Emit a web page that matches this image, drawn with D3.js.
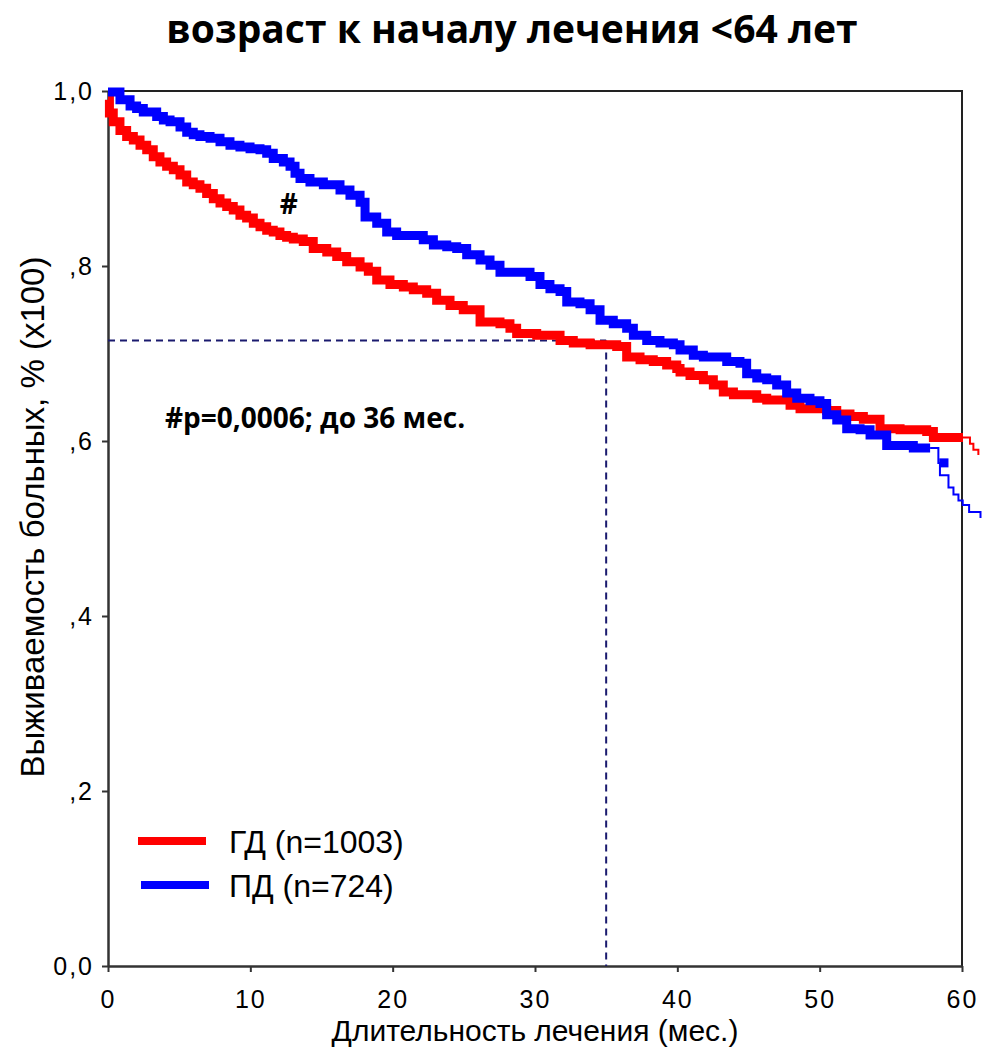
<!DOCTYPE html>
<html>
<head>
<meta charset="utf-8">
<script src="https://cdn.jsdelivr.net/npm/d3@7"></script>
<style>
  body { margin: 0; background: #fff; }
  svg { display: block; }
</style>
</head>
<body>
<svg id="chart" width="982" height="1053"></svg>
<script>
/**
 * Data.
 */
const title = 'возраст к началу лечения <64 лет',
    xLabel = 'Длительность лечения (мес.)',
    yLabel = 'Выживаемость больных, % (x100)',
    note = '#p=0,0006; до 36 мес.';

const xTicks = [0, 10, 20, 30, 40, 50, 60],
    yTicks = [0, 0.2, 0.4, 0.6, 0.8, 1.0],
    yTickLabels = ['0,0', ',2', ',4', ',6', ',8', '1,0'];

// ГД (red): months, survival
const gdTime = [0, 0.1, 0.37, 0.84, 1.31, 1.78, 2.25, 2.72, 3.18, 3.65, 4.12, 4.59, 5.06, 5.53, 5.99, 6.46, 6.93, 7.4, 7.87, 8.34,
        8.8, 9.27, 9.74, 10.21, 10.68, 11.15, 11.61, 12.08, 12.55, 13.02, 13.72, 14.42, 15.37, 16.07, 16.77, 17.71, 18.29, 18.88, 19.81, 20.75,
        21.45, 22.39, 23.09, 24.03, 24.96, 26.14, 27.54, 28.24, 28.71, 30.12, 31.76, 32.69, 33.87, 35.74, 36.44, 37.38, 38.31, 39.25, 39.96, 40.19,
        40.89, 41.83, 42.53, 43.23, 43.94, 45.58, 46.28, 47.92, 48.62, 50.49, 51.2, 52.13, 53.07, 54.24, 55.65, 57.52, 57.99, 60.56, 60.8, 61.15],
    gdSurv = [0.99, 0.975, 0.965, 0.955, 0.948, 0.944, 0.938, 0.933, 0.925, 0.919, 0.914, 0.91, 0.904, 0.896, 0.893, 0.889, 0.883, 0.877, 0.872, 0.868,
        0.864, 0.858, 0.855, 0.849, 0.845, 0.841, 0.839, 0.835, 0.833, 0.831, 0.828, 0.82, 0.816, 0.811, 0.805, 0.799, 0.794, 0.784, 0.779, 0.776,
        0.773, 0.769, 0.761, 0.755, 0.75, 0.736, 0.734, 0.729, 0.723, 0.721, 0.715, 0.712, 0.71, 0.708, 0.696, 0.693, 0.691, 0.687, 0.683, 0.679,
        0.675, 0.67, 0.664, 0.656, 0.653, 0.649, 0.647, 0.641, 0.637, 0.635, 0.631, 0.628, 0.625, 0.614, 0.613, 0.611, 0.604, 0.597, 0.59, 0.584];

// ПД (blue): months, survival
const pdTime = [0, 0.84, 1.55, 2.01, 2.48, 3.42, 3.89, 4.36, 5.06, 5.53, 5.99, 6.46, 7.17, 7.87, 8.57, 9.27, 9.98, 10.68, 11.15, 11.61,
        12.32, 12.79, 13.14, 13.49, 14.19, 15.13, 16.3, 17.0, 17.71, 18.06, 18.88, 19.58, 20.28, 22.15, 22.86, 23.8, 24.5, 25.2, 26.14, 26.84,
        27.54, 29.65, 30.35, 31.05, 31.76, 32.23, 33.16, 33.87, 34.57, 35.5, 36.44, 36.91, 37.85, 38.78, 39.72, 40.19, 41.12, 41.83, 43.47, 44.4,
        44.87, 45.58, 46.28, 46.98, 47.68, 48.39, 49.32, 50.02, 50.49, 51.2, 51.9, 52.84, 53.54, 54.71, 56.58, 58.34, 58.45, 59.05, 59.4, 59.75,
        60.05, 60.5, 61.3],
    pdSurv = [0.999, 0.99, 0.983, 0.98, 0.976, 0.971, 0.967, 0.965, 0.959, 0.953, 0.95, 0.948, 0.946, 0.942, 0.938, 0.936, 0.934, 0.933, 0.929, 0.923,
        0.919, 0.914, 0.906, 0.9, 0.896, 0.893, 0.887, 0.881, 0.873, 0.856, 0.849, 0.839, 0.835, 0.83, 0.824, 0.822, 0.82, 0.813, 0.807, 0.801,
        0.793, 0.788, 0.779, 0.774, 0.771, 0.759, 0.757, 0.75, 0.738, 0.734, 0.729, 0.721, 0.715, 0.712, 0.71, 0.704, 0.698, 0.696, 0.691, 0.689,
        0.677, 0.672, 0.67, 0.664, 0.655, 0.649, 0.646, 0.643, 0.63, 0.624, 0.614, 0.613, 0.607, 0.595, 0.592, 0.575, 0.561, 0.547, 0.539, 0.532,
        0.527, 0.519, 0.512];

// Where the dense censor marks stop and the thin line takes over
const gdThickEnd = 60.07,
    pdThickEnd = 57.76;

// Isolated censor marks on the tails: [from, to] in months
const pdLateCensor = [[58.4, 59.05]];

const series = [
    { name: 'ГД (n=1003)', color: '#ff0000', time: gdTime, surv: gdSurv, thickEnd: gdThickEnd, censor: [] },
    { name: 'ПД (n=724)', color: '#0000ff', time: pdTime, surv: pdSurv, thickEnd: pdThickEnd, censor: pdLateCensor }
];

// Guide lines: 35 months, 0.715
const guideX = 35, guideY = 0.715;

/**
 * Layout.
 */
const margin = { top: 91, left: 108 },
    width = 854, height = 875,
    lineWidth = 9;

const svg = d3.select('#chart');
const g = svg.append('g').attr('transform', 'translate(' + margin.left + ',' + margin.top + ')');

const x = d3.scaleLinear().domain([0, 60]).range([0, width]),
    y = d3.scaleLinear().domain([0, 1]).range([height, 0]);

// Survival at time t (step function)
function survAt(sr, t) {
    const i = d3.bisectRight(sr.time, t) - 1;
    return sr.surv[Math.max(0, i)];
}

// Title
svg.append('text')
    .attr('x', 512).attr('y', 43)
    .attr('text-anchor', 'middle')
    .style('font-family', '"Open Sans", sans-serif')
    .style('font-weight', 'bold')
    .style('font-size', '39px')
    .text(title);

// Frame (top and right)
g.append('path')
    .attr('d', 'M0,0H' + width + 'V' + height)
    .attr('fill', 'none')
    .attr('stroke', '#222')
    .attr('stroke-width', 2);

// Axes
const xAxis = g.append('g')
    .attr('transform', 'translate(0,' + height + ')')
    .call(d3.axisBottom(x).tickValues(xTicks).tickSize(6).tickSizeOuter(0));
const yAxis = g.append('g')
    .call(d3.axisLeft(y).tickValues(yTicks).tickSize(6).tickSizeOuter(0)
        .tickFormat((d, i) => yTickLabels[i]));

[xAxis, yAxis].forEach(a => {
    a.select('.domain').attr('stroke', '#333').attr('stroke-width', 2.5);
    a.selectAll('.tick line').attr('stroke', '#333').attr('stroke-width', 2);
    a.selectAll('.tick text')
        .style('font-family', '"Liberation Sans", Arial, sans-serif')
        .style('font-size', '25px')
        .style('letter-spacing', '2px')
        .attr('fill', '#000');
});
xAxis.selectAll('.tick text').attr('dy', '1.3em');
yAxis.selectAll('.tick text').attr('x', -14);

// Axis labels
svg.append('text')
    .attr('x', 535).attr('y', 1041)
    .attr('text-anchor', 'middle')
    .style('font-family', '"Liberation Sans", Arial, sans-serif')
    .style('font-size', '30px')
    .text(xLabel);

svg.append('text')
    .attr('transform', 'translate(44,517) rotate(-90)')
    .attr('text-anchor', 'middle')
    .style('font-family', '"Liberation Sans", Arial, sans-serif')
    .style('font-size', '33px')
    .text(yLabel);

// Dashed guides
const guides = g.append('g')
    .attr('stroke', '#1a1a6e')
    .attr('stroke-width', 2)
    .attr('stroke-dasharray', '7,5')
    .attr('fill', 'none');
guides.append('line')
    .attr('x1', 0).attr('x2', x(guideX))
    .attr('y1', y(guideY)).attr('y2', y(guideY));
guides.append('line')
    .attr('x1', x(guideX)).attr('x2', x(guideX))
    .attr('y1', y(guideY)).attr('y2', height);

// Curves
const line = d3.line()
    .x(d => x(d.t))
    .y(d => y(d.s))
    .curve(d3.curveStepAfter);

series.forEach(sr => {
    const pts = sr.time.map((t, i) => ({ t: t, s: sr.surv[i] }));
    const thick = pts.filter(d => d.t <= sr.thickEnd);
    const endPt = { t: sr.thickEnd, s: survAt(sr, sr.thickEnd) };
    const thin = [endPt].concat(pts.filter(d => d.t > sr.thickEnd));

    g.append('path')
        .attr('d', line(thin))
        .attr('fill', 'none')
        .attr('stroke', sr.color)
        .attr('stroke-width', 2);

    g.append('path')
        .attr('d', line(thick.concat([endPt])))
        .attr('fill', 'none')
        .attr('stroke', sr.color)
        .attr('stroke-width', lineWidth)
        .attr('stroke-linejoin', 'miter');

    sr.censor.forEach(c => {
        const s = survAt(sr, c[0]);
        g.append('rect')
            .attr('x', x(c[0]))
            .attr('y', y(s) - lineWidth / 2)
            .attr('width', x(c[1]) - x(c[0]))
            .attr('height', lineWidth)
            .attr('fill', sr.color);
    });
});

// Annotations
g.append('text')
    .attr('x', x(12.7)).attr('y', y(0.86))
    .attr('text-anchor', 'middle')
    .style('font-family', '"Open Sans", sans-serif')
    .style('font-weight', 'bold')
    .style('font-size', '28px')
    .text('#');

svg.append('text')
    .attr('x', 165).attr('y', 428)
    .style('font-family', '"Open Sans", sans-serif')
    .style('font-weight', 'bold')
    .style('font-size', '28px')
    .text(note);

// Legend
const legend = svg.append('g').attr('transform', 'translate(138,841)');
series.forEach((sr, i) => {
    const row = legend.append('g').attr('transform', 'translate(' + (i * 3) + ',' + (i * 44) + ')');
    row.append('line')
        .attr('x1', 0).attr('x2', 68)
        .attr('stroke', sr.color)
        .attr('stroke-width', 8);
    row.append('text')
        .attr('x', 91 - i * 3).attr('y', 12)
        .style('font-family', '"Liberation Sans", Arial, sans-serif')
        .style('font-size', '32px')
        .text(sr.name);
});
</script>
</body>
</html>
